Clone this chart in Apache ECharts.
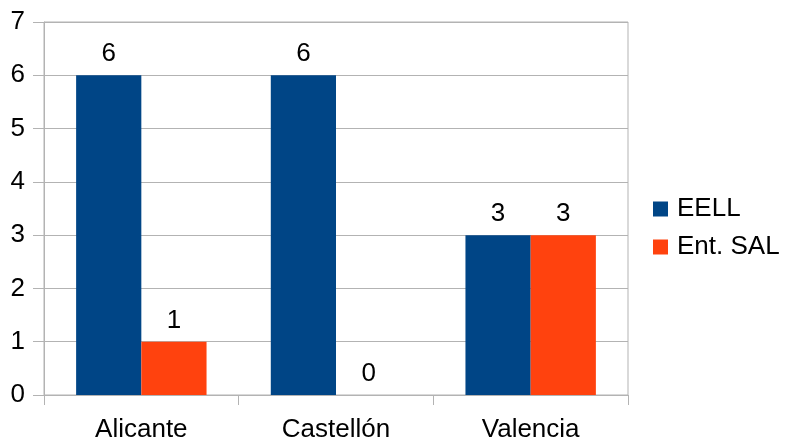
<!DOCTYPE html>
<html><head><meta charset="utf-8">
<script src="https://cdn.jsdelivr.net/npm/echarts@6/dist/echarts.min.js"></script>
<style>html,body{margin:0;padding:0;background:#fff}#c{width:785px;height:443px}</style>
</head><body><div id="c"></div>
<script>
const categories = ["Alicante", "Castellón", "Valencia"];
const eell = [6, 6, 3];
const entSal = [1, 0, 3];
const yTicks = [0, 1, 2, 3, 4, 5, 6, 7];

const chart = echarts.init(document.getElementById('c'));
const font = "'Liberation Sans', Arial, sans-serif";
const grid = '#b3b3b3';
chart.setOption({
  animation: false,
  textStyle: { fontFamily: font },
  grid: { left: 44, right: 157, top: 22, bottom: 47, show: true, borderColor: grid, borderWidth: 1 },
  legend: {
    orient: 'vertical', left: 648, top: 191,
    itemWidth: 15, itemHeight: 15, itemGap: 12,
    icon: 'rect',
    textStyle: { fontSize: 26, color: '#000', fontFamily: font, padding: [0, 0, 0, 4] },
    data: ['EELL', 'Ent. SAL']
  },
  xAxis: {
    type: 'category', data: categories,
    axisLine: { lineStyle: { color: grid } },
    axisTick: { show: true, length: 10, lineStyle: { color: grid } },
    axisLabel: { fontSize: 26, color: '#000', margin: 22, fontFamily: font }
  },
  yAxis: {
    type: 'value', min: yTicks[0], max: yTicks[yTicks.length - 1], interval: 1,
    axisLine: { show: true, lineStyle: { color: grid } },
    axisTick: { show: true, length: 11, lineStyle: { color: grid } },
    splitLine: { lineStyle: { color: grid } },
    axisLabel: { fontSize: 26, color: '#000', margin: 19, fontFamily: font }
  },
  series: [
    { name: 'EELL', type: 'bar', data: eell, barGap: '0%', barCategoryGap: '33%',
      itemStyle: { color: '#004586' },
      label: { show: true, position: 'top', distance: 8, fontSize: 26, color: '#000', fontFamily: font } },
    { name: 'Ent. SAL', type: 'bar', data: entSal,
      itemStyle: { color: '#ff420e' },
      label: { show: true, position: 'top', distance: 8, fontSize: 26, color: '#000', fontFamily: font } }
  ]
});
</script></body></html>
